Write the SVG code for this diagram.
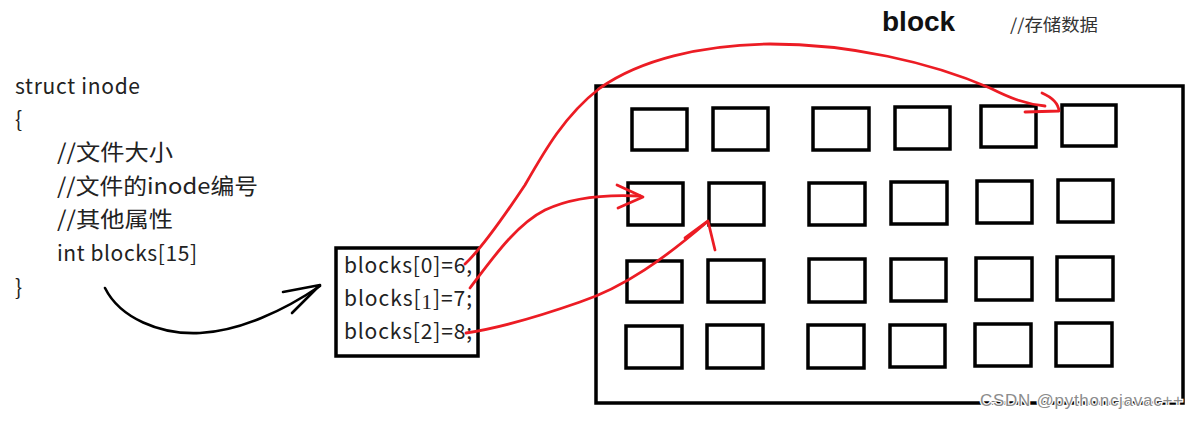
<svg xmlns="http://www.w3.org/2000/svg" width="1203" height="423" viewBox="0 0 1203 423">
<style>
.code{font-family:"Noto Sans CJK SC","Liberation Sans",sans-serif;font-size:21px;fill:#222}
.cjk{font-size:22px}
.box{fill:none;stroke:#000;stroke-width:3.5}
.red{fill:none;stroke:#ec1c24;stroke-width:2.8;stroke-linecap:round;stroke-linejoin:round}
.blk{fill:none;stroke:#000;stroke-width:2.6;stroke-linecap:round;stroke-linejoin:round}
</style>
<rect width="1203" height="423" fill="#fff"/>
<g id="inode-struct">
<text class="code" x="15" y="94" textLength="125">struct inode</text>
<text class="code" x="15" y="127">{</text>
<text class="code cjk" x="57" y="160" textLength="116" lengthAdjust="spacingAndGlyphs">//文件大小</text>
<text class="code cjk" x="57" y="194" textLength="201" lengthAdjust="spacingAndGlyphs">//文件的inode编号</text>
<text class="code cjk" x="57" y="227" textLength="116" lengthAdjust="spacingAndGlyphs">//其他属性</text>
<text class="code" x="57" y="261" textLength="140">int blocks[15]</text>
<text class="code" x="15" y="295">}</text>
</g>
<g id="blocks-array">
<rect class="box" x="336" y="248" width="142" height="108"/>
<text class="code" x="344" y="273" textLength="128">blocks[0]=6,</text>
<text class="code" x="344" y="306" textLength="128">blocks[<tspan font-family="Liberation Serif" dy="3">1</tspan><tspan dy="-3">]=7;</tspan></text>
<text class="code" x="344" y="339" textLength="128">blocks[2]=8;</text>
</g>
<g id="block-title">
<text x="882" y="31" font-family="Liberation Sans, Arial, sans-serif" font-weight="bold" font-size="28" fill="#111">block</text>
<text x="1010" y="31" font-family="Noto Sans CJK SC, Liberation Sans, sans-serif" font-size="17" fill="#333" textLength="88" lengthAdjust="spacingAndGlyphs">//存储数据</text>
</g>
<g id="disk">
<rect class="box" x="596" y="86" width="587" height="317"/>
</g>
<g id="data-blocks">
<rect class="box" x="632" y="109" width="55" height="41"/>
<rect class="box" x="713" y="108" width="55" height="42"/>
<rect class="box" x="813" y="108" width="56" height="42"/>
<rect class="box" x="895" y="107" width="55" height="42"/>
<rect class="box" x="981" y="106" width="55" height="41"/>
<rect class="box" x="1062" y="105" width="54" height="41"/>
<rect class="box" x="628" y="183" width="55" height="42"/>
<rect class="box" x="709" y="183" width="55" height="42"/>
<rect class="box" x="809" y="183" width="56" height="42"/>
<rect class="box" x="891" y="182" width="56" height="42"/>
<rect class="box" x="977" y="181" width="55" height="42"/>
<rect class="box" x="1058" y="180" width="55" height="42"/>
<rect class="box" x="627" y="261" width="55" height="41"/>
<rect class="box" x="708" y="260" width="56" height="42"/>
<rect class="box" x="809" y="259" width="56" height="43"/>
<rect class="box" x="891" y="259" width="55" height="42"/>
<rect class="box" x="976" y="258" width="56" height="42"/>
<rect class="box" x="1057" y="257" width="56" height="43"/>
<rect class="box" x="626" y="326" width="56" height="42"/>
<rect class="box" x="707" y="325" width="56" height="43"/>
<rect class="box" x="808" y="325" width="56" height="43"/>
<rect class="box" x="890" y="325" width="55" height="42"/>
<rect class="box" x="975" y="324" width="56" height="42"/>
<rect class="box" x="1056" y="323" width="56" height="43"/>
</g>
<g id="connectors">
<path class="blk" d="M105,288 C120,318 160,335 200,333 C240,331 285,310 320,286"/>
<path class="blk" d="M283,292 L320,285 L292,313"/>
<path class="red" d="M465,264 C480,250 505,215 525,185 C545,150 565,115 600,88 C640,60 700,45 770,44 C850,44 930,62 990,88 C1010,98 1025,104 1045,106"/>
<path class="red" d="M1042,93 Q1058,100 1059,111 L1025,112"/>
<path class="red" d="M470,288 C490,262 515,225 545,210 C570,198 600,194 640,196"/>
<path class="red" d="M617,185 L643,197 L618,208"/>
<path class="red" d="M466,333 C500,328 540,316 580,302 C625,287 665,258 707,222"/>
<path class="red" d="M685,238 L708,221 L715,250"/>
</g>
<text x="980" y="406" font-family="Liberation Sans, Arial, sans-serif" font-size="17" fill="#8c8c8c" stroke="#fff" stroke-width="2.5" paint-order="stroke" textLength="203">CSDN @pythoncjavac++</text>
</svg>
